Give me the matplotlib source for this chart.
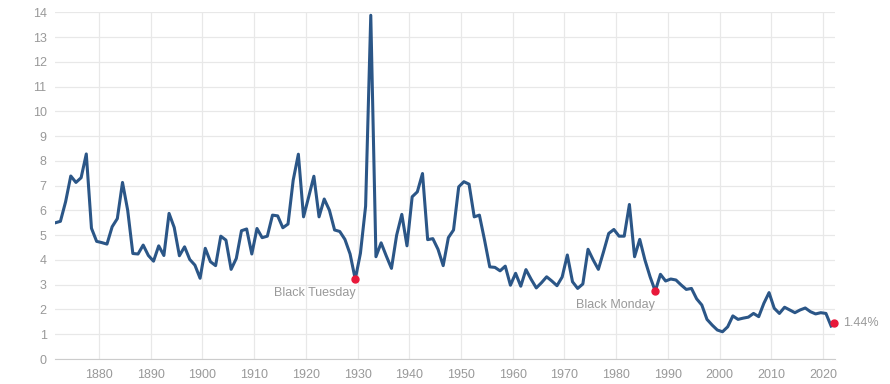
import numpy as np
import matplotlib
matplotlib.use('Agg')
import matplotlib.pyplot as plt

# S&P 500 dividend yield (%) by year
years = np.arange(1871, 2022)
yield_pct = [
    5.50, 5.56, 6.35, 7.39, 7.13, 7.32, 8.28, 5.28, 4.75, 4.70,   # 1871-1880
    4.64, 5.34, 5.67, 7.13, 6.01, 4.26, 4.24, 4.60, 4.18, 3.95,   # 1881-1890
    4.57, 4.18, 5.88, 5.31, 4.17, 4.53, 4.02, 3.79, 3.26, 4.47,   # 1891-1900
    3.93, 3.77, 4.96, 4.80, 3.62, 4.06, 5.18, 5.25, 4.24, 5.27,   # 1901-1910
    4.90, 4.96, 5.81, 5.78, 5.30, 5.45, 7.22, 8.27, 5.74, 6.55,   # 1911-1920
    7.38, 5.74, 6.46, 6.01, 5.21, 5.15, 4.83, 4.24, 3.22, 4.27,   # 1921-1930
    6.17, 13.88, 4.13, 4.69, 4.16, 3.66, 5.00, 5.84, 4.57, 6.55,  # 1931-1940
    6.75, 7.49, 4.82, 4.86, 4.43, 3.77, 4.90, 5.21, 6.95, 7.16,   # 1941-1950
    7.06, 5.74, 5.81, 4.80, 3.72, 3.70, 3.56, 3.75, 2.98, 3.46,   # 1951-1960
    2.94, 3.61, 3.22, 2.87, 3.08, 3.32, 3.15, 2.96, 3.31, 4.20,   # 1961-1970
    3.12, 2.85, 3.03, 4.43, 4.00, 3.62, 4.33, 5.07, 5.23, 4.96,   # 1971-1980
    4.96, 6.24, 4.13, 4.83, 4.00, 3.32, 2.74, 3.42, 3.15, 3.23,   # 1981-1990
    3.19, 2.99, 2.81, 2.85, 2.43, 2.18, 1.60, 1.37, 1.17, 1.10,   # 1991-2000
    1.30, 1.74, 1.60, 1.65, 1.69, 1.84, 1.71, 2.25, 2.68, 2.05,   # 2001-2010
    1.84, 2.09, 1.98, 1.87, 1.98, 2.06, 1.91, 1.82, 1.87, 1.84,   # 2011-2020
    1.33,                                                         # 2021
]

events = ['Black Tuesday', 'Black Monday']
event_years = [1929, 1987]
current_year = 2022.2
current_value = 1.44

line_color = '#2b5687'
dot_color = '#e8183a'
text_color = '#999999'

plt.rcParams['font.family'] = ['Liberation Sans', 'DejaVu Sans']

fig = plt.figure(figsize=(8.9, 3.84), dpi=100)
ax = fig.add_axes([55 / 890, 1 - 359 / 384, 780 / 890, (359 - 12.3) / 384])

# yearly values sit roughly mid-year on the time axis
x = years + 0.55
ax.plot(x, yield_pct, color=line_color, lw=2.2, solid_joinstyle='round', zorder=3)

for name, yr in zip(events, event_years):
    i = list(years).index(yr)
    ax.plot(x[i], yield_pct[i], 'o', color=dot_color, ms=5, zorder=4)
    ax.annotate(name, (x[i], yield_pct[i]), xytext=(0, -10), textcoords='offset points',
                ha='right', va='center', color=text_color, fontsize=9)

ax.plot(current_year, current_value, 'o', color=dot_color, ms=5, zorder=4, clip_on=False)
ax.annotate(f'{current_value:.2f}%', (current_year, current_value), xytext=(6, 0),
            textcoords='offset points', ha='left', va='center', color=text_color,
            fontsize=9, annotation_clip=False)

ax.set_xlim(1871.5, 2022.3)
ax.set_ylim(0, 14)
ax.set_xticks(np.arange(1880, 2021, 10))
ax.set_yticks(np.arange(0, 15, 1))
ax.grid(True, color='#e8e8e8', lw=0.9)
ax.set_axisbelow(True)
for s in ['top', 'right', 'left']:
    ax.spines[s].set_visible(False)
ax.spines['bottom'].set_color('#cccccc')
ax.tick_params(length=0, labelcolor=text_color, labelsize=9)
ax.tick_params(axis='x', pad=7)
ax.tick_params(axis='y', pad=6)

fig.savefig('out.png', dpi=100)
